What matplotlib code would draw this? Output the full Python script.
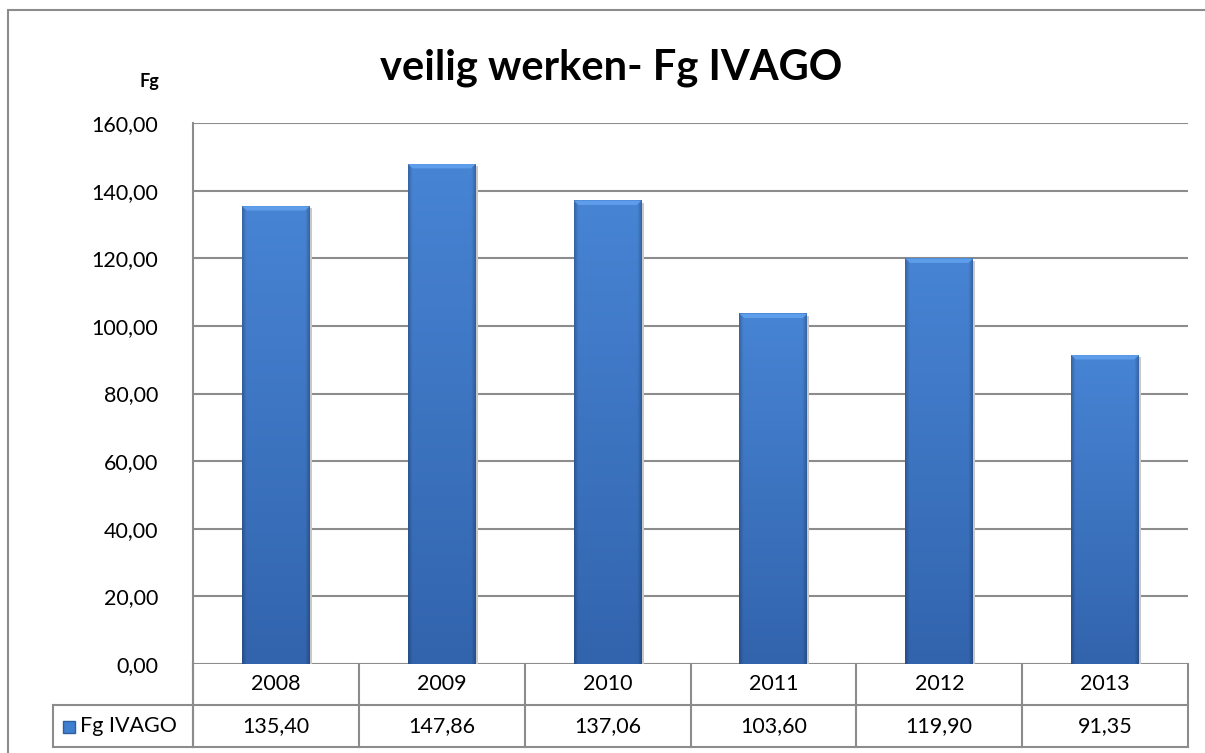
import numpy as np
import matplotlib
matplotlib.use('Agg')
import matplotlib.pyplot as plt
from matplotlib.patches import Rectangle, Polygon
from matplotlib.colors import to_rgb
import matplotlib.transforms as mtransforms

plt.rcParams['font.family'] = ['Lato', 'DejaVu Sans']

years = ['2008', '2009', '2010', '2011', '2012', '2013']
fg_ivago = [135.40, 147.86, 137.06, 103.60, 119.90, 91.35]
series_name = 'Fg IVAGO'
yticks = [0, 20, 40, 60, 80, 100, 120, 140, 160]

W, H = 1205, 753
fig = plt.figure(figsize=(W / 100, H / 100), dpi=100)
ax = fig.add_axes([193 / W, (H - 664) / H, (1188 - 193) / W, (664 - 123) / H])

grid_c = '#8c8c8c'
fs = 15.5
x = np.arange(len(years))
bw = 0.41

# bevelled excel-like bars: vertical gradient + darker side edges
top_c = np.array(to_rgb('#4784d4'))
bot_c = np.array(to_rgb('#3264ad'))
bars = ax.bar(x, fg_ivago, width=bw, color='none', zorder=3)
for b in bars:
    x0, y0 = b.get_x(), b.get_y()
    w, h = b.get_width(), b.get_height()
    t = np.linspace(0, 1, 128)[:, None]
    img = bot_c + (top_c - bot_c) * t[..., None] * np.ones((1, 64, 1))
    u = np.linspace(0, 1, 64)
    edge = 1 - 0.22 * (np.clip(1 - u / 0.06, 0, 1) + np.clip(1 - (1 - u) / 0.06, 0, 1))
    img = img * edge[None, :, None]
    ax.imshow(img, extent=(x0, x0 + w, y0, y0 + h), aspect='auto', origin='lower',
              interpolation='bilinear', zorder=3)
    # shadow on the right
    ax.add_patch(Rectangle((x0 + w, y0), 0.012, h - 0.6, facecolor='#c8c8c8', edgecolor='none', zorder=2))
    # bevel top
    bh = 1.3
    dx = 0.03
    ax.add_patch(Polygon([(x0, y0 + h), (x0 + w, y0 + h), (x0 + w - dx, y0 + h - bh), (x0 + dx, y0 + h - bh)],
                         closed=True, facecolor='#5e9de9', edgecolor='none', zorder=4))

ax.set_xlim(-0.5, len(years) - 0.5)
ax.set_ylim(0, 160)
ax.set_yticks(yticks)
ax.set_yticklabels([('%.2f' % v).replace('.', ',') for v in yticks], fontsize=fs)
ax.tick_params(axis='y', length=0, pad=25)
ax.set_xticks([])
for yv in yticks:
    ax.axhline(yv, color=grid_c, lw=1.5, zorder=1)
for s in ['top', 'right', 'bottom']:
    ax.spines[s].set_visible(False)
ax.spines['left'].set_color(grid_c)
ax.spines['left'].set_linewidth(1.5)

# data table under the plot
tr = mtransforms.blended_transform_factory(ax.transData, fig.transFigure)
fy = lambda py: (H - py) / H
fx = lambda px: px / W
r0, r1, r2 = fy(664), fy(705), fy(747)
lk = dict(color=grid_c, lw=1.5, zorder=5)
fig.add_artist(plt.Line2D([fx(193), fx(193)], [r2, r0], transform=fig.transFigure, **lk))
fig.add_artist(plt.Line2D([fx(53), fx(53)], [r2, r1], transform=fig.transFigure, **lk))
fig.add_artist(plt.Line2D([fx(53), fx(1188)], [r1, r1], transform=fig.transFigure, **lk))
fig.add_artist(plt.Line2D([fx(53), fx(1188)], [r2, r2], transform=fig.transFigure, **lk))
for i in range(len(years) + 1):
    fig.add_artist(plt.Line2D([i - 0.5, i - 0.5], [r2, r0], transform=tr, **lk))
for i, (yr, v) in enumerate(zip(years, fg_ivago)):
    fig.text(i, (r0 + r1) / 2, yr, transform=tr, ha='center', va='center', fontsize=fs)
    fig.text(i, (r1 + r2) / 2, ('%.2f' % v).replace('.', ','), transform=tr, ha='center', va='center', fontsize=fs)

# legend key in table
fig.add_artist(Rectangle((fx(63), fy(733)), 12 / W, 12 / H, transform=fig.transFigure,
                         facecolor='#3f7fd0', edgecolor='#2f5e9f', lw=1, zorder=6))
fig.text(fx(80), (r1 + r2) / 2, series_name, ha='left', va='center', fontsize=fs)

# outer chart frame (cut off on the right/bottom like the original)
fig.add_artist(Rectangle((fx(8), fy(770)), 1.1, (770 - 10) / H, transform=fig.transFigure,
                         facecolor='none', edgecolor='#8c8c8c', lw=1.5, zorder=0))

fig.text(fx(611), fy(68), 'veilig werken- Fg IVAGO', ha='center', va='center', fontsize=30, fontweight='bold')
fig.text(fx(149), fy(82), 'Fg', ha='center', va='center', fontsize=13, fontweight='bold')

fig.savefig('out.png', dpi=100)
